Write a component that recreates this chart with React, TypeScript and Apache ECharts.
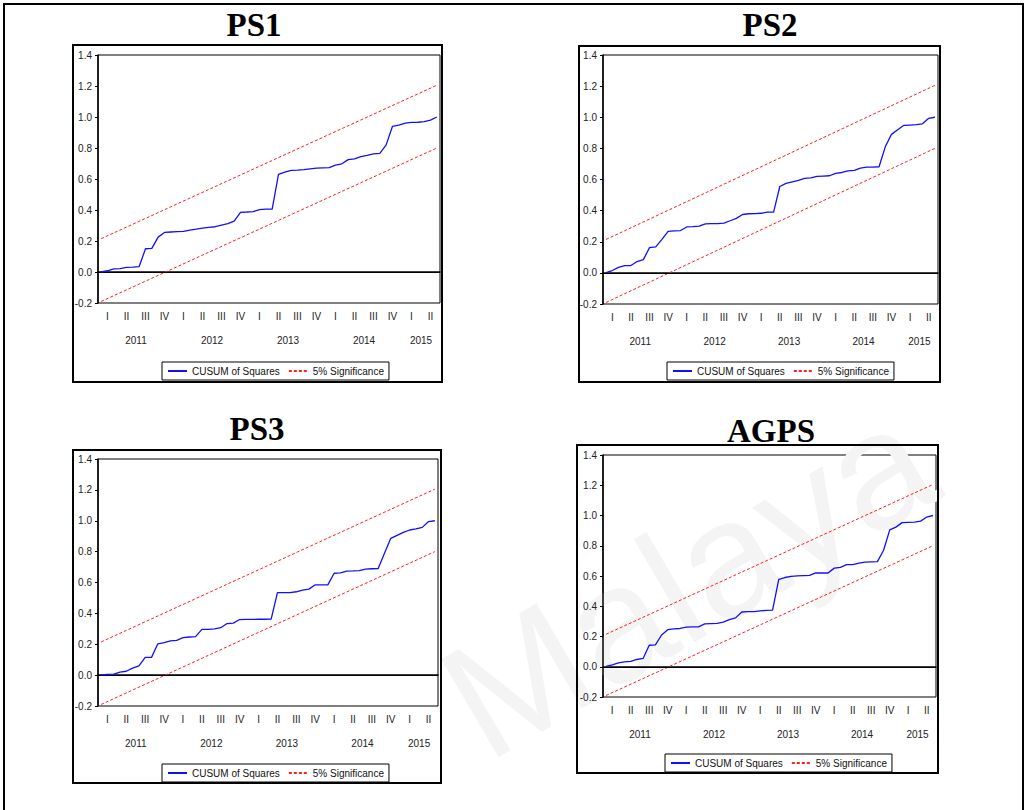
import React, { useEffect, useRef } from "react";
import * as echarts from "echarts";

// ---- data ----
const START_YEAR = 2011;
const MONTH_COUNT = 54; // 2011M01 .. 2015M06
const MONTHS: string[] = Array.from({ length: MONTH_COUNT }, (_, i) =>
  `${START_YEAR + Math.floor(i / 12)}M${String((i % 12) + 1).padStart(2, "0")}`
);
const YEARS = ["2011", "2012", "2013", "2014", "2015"];
const QUARTER_LABELS = ["I", "II", "III", "IV"];
const Y_TICKS = [-0.2, 0.0, 0.2, 0.4, 0.6, 0.8, 1.0, 1.2, 1.4];

const PS1 = [
  0.0, 0.008, 0.02, 0.022, 0.03, 0.032, 0.035, 0.15, 0.152, 0.225, 0.255, 0.258,
  0.26, 0.262, 0.27, 0.276, 0.283, 0.288, 0.292, 0.302, 0.312, 0.328, 0.385, 0.387,
  0.39, 0.402, 0.405, 0.406, 0.63, 0.645, 0.655, 0.657, 0.66, 0.665, 0.67, 0.672,
  0.673, 0.69, 0.698, 0.725, 0.73, 0.745, 0.752, 0.762, 0.765, 0.82, 0.94, 0.947,
  0.96, 0.965, 0.966, 0.97, 0.98, 1.0,
];
const PS2 = [
  0.002, 0.015, 0.035, 0.047, 0.047, 0.073, 0.085, 0.162, 0.167, 0.215, 0.267, 0.27,
  0.272, 0.295, 0.297, 0.3, 0.315, 0.316, 0.317, 0.32, 0.335, 0.35, 0.375, 0.38,
  0.381, 0.383, 0.39, 0.39, 0.555, 0.575, 0.585, 0.595, 0.607, 0.61, 0.62, 0.622,
  0.624, 0.64, 0.645, 0.656, 0.658, 0.673, 0.68, 0.68, 0.682, 0.81, 0.89, 0.92,
  0.948, 0.95, 0.952, 0.958, 0.993, 1.0,
];
const PS3 = [
  0.002, 0.004, 0.006, 0.02, 0.025, 0.045, 0.06, 0.115, 0.115, 0.203, 0.21, 0.222,
  0.225, 0.243, 0.247, 0.249, 0.296, 0.297, 0.299, 0.307, 0.334, 0.337, 0.36, 0.361,
  0.361, 0.362, 0.362, 0.363, 0.535, 0.535, 0.535, 0.54, 0.55, 0.557, 0.585, 0.585,
  0.585, 0.66, 0.663, 0.674, 0.675, 0.677, 0.687, 0.689, 0.69, 0.79, 0.886, 0.905,
  0.925, 0.94, 0.948, 0.957, 0.995, 1.0,
];
const AGPS = [
  0.002, 0.013, 0.025, 0.032, 0.035, 0.048, 0.055, 0.142, 0.145, 0.21, 0.245, 0.25,
  0.253, 0.262, 0.263, 0.264, 0.283, 0.285, 0.287, 0.295, 0.312, 0.323, 0.362, 0.364,
  0.365, 0.369, 0.373, 0.374, 0.578, 0.59, 0.597, 0.601, 0.603, 0.604, 0.62, 0.62,
  0.62, 0.652, 0.657, 0.675, 0.675, 0.685, 0.692, 0.694, 0.695, 0.77, 0.905, 0.923,
  0.953, 0.955, 0.956, 0.963, 0.99, 1.0,
];
// 5% significance bounds: [value at first month, value at last month]
const UPPER_BOUND = [0.215, 1.205];
const LOWER_BOUND = [-0.19, 0.8];

const SERIES_NAME = "CUSUM of Squares";
const BOUND_NAME = "5% Significance";

// ---- layout ----
const PANELS = [
  { title: "PS1", data: PS1, box: [73, 45, 369, 337], grid: { left: 98, top: 55, width: 342, height: 248 }, titleX: 254, titleY: 25, legendLeft: 162, legendTop: 362 },
  { title: "PS2", data: PS2, box: [579, 46, 361, 336], grid: { left: 603, top: 55, width: 335, height: 249 }, titleX: 770, titleY: 25, legendLeft: 667, legendTop: 362 },
  { title: "PS3", data: PS3, box: [73, 450, 368, 333], grid: { left: 98, top: 459, width: 340, height: 247 }, titleX: 257, titleY: 429, legendLeft: 162, legendTop: 764 },
  { title: "AGPS", data: AGPS, box: [577, 445, 361, 328], grid: { left: 603, top: 455, width: 333, height: 242 }, titleX: 771, titleY: 431, legendLeft: 665, legendTop: 754 },
];

const SANS = "'Liberation Sans', Arial, sans-serif";
const SERIF = "'Liberation Serif', 'Times New Roman', serif";

function yearCenters() {
  const centers: number[] = [];
  const labels: Record<string, string> = {};
  YEARS.forEach((y) => {
    const idx = MONTHS.map((m, i) => (m.startsWith(y) ? i : -1)).filter((i) => i >= 0);
    const c = (idx[0] + idx[idx.length - 1] + 1) / 2;
    centers.push(c);
    labels[String(c)] = y;
  });
  return { centers, labels };
}

function buildOption() {
  const { centers, labels } = yearCenters();
  const grids: any[] = [];
  const xAxes: any[] = [];
  const yAxes: any[] = [];
  const series: any[] = [];
  const legends: any[] = [];
  const graphics: any[] = [];

  // faint watermark
  graphics.push({
    type: "text",
    x: 500,
    y: 786,
    rotation: 0.53,
    z: 0,
    silent: true,
    style: { text: "Malaya", font: `165px ${SANS}`, fill: "#f4f4f4", verticalAlign: "bottom" },
  });
  graphics.push({
    type: "rect",
    z: 100,
    shape: { x: 4, y: 4, width: 1019, height: 830 },
    style: { fill: "none", stroke: "#000", lineWidth: 2 },
    silent: true,
  });

  PANELS.forEach((p, k) => {
    grids.push({ ...p.grid, show: true, borderColor: "#000", borderWidth: 1, backgroundColor: "transparent" });
    xAxes.push({
      type: "category",
      gridIndex: k,
      data: MONTHS,
      boundaryGap: true,
      axisLine: { lineStyle: { color: "#000", width: 1.5 } },
      axisTick: { interval: 0, length: 3, lineStyle: { color: "#000", width: 1 } },
      axisLabel: {
        interval: (i: number) => i % 3 === 1,
        margin: 8,
        fontFamily: SANS,
        fontSize: 10,
        color: "#222",
        formatter: (v: string) => QUARTER_LABELS[Math.floor((parseInt(v.slice(5), 10) - 1) / 3)],
      },
      splitLine: { show: false },
    });
    xAxes.push({
      type: "value",
      gridIndex: k,
      position: "bottom",
      offset: 23,
      min: 0,
      max: MONTH_COUNT,
      axisLine: { show: false },
      axisTick: { show: false },
      splitLine: { show: false },
      axisLabel: {
        customValues: centers,
        margin: 9,
        fontFamily: SANS,
        fontSize: 10,
        color: "#222",
        formatter: (v: number) => labels[String(v)] || "",
      },
    });
    yAxes.push({
      type: "value",
      gridIndex: k,
      min: Y_TICKS[0],
      max: Y_TICKS[Y_TICKS.length - 1],
      interval: 0.2,
      axisLine: { show: true, lineStyle: { color: "#000", width: 1.5 } },
      axisTick: { show: true, length: 3, lineStyle: { color: "#000" } },
      splitLine: { show: false },
      axisLabel: {
        margin: 6,
        fontFamily: SANS,
        fontSize: 10,
        color: "#222",
        formatter: (v: number) => v.toFixed(1),
      },
    });
    series.push({
      name: SERIES_NAME,
      type: "line",
      xAxisIndex: 2 * k,
      yAxisIndex: k,
      data: p.data,
      symbol: "none",
      lineStyle: { color: "#1010ff", width: 1.3 },
      itemStyle: { color: "#1010ff" },
      z: 5,
      markLine: {
        silent: true,
        symbol: "none",
        label: { show: false },
        lineStyle: { color: "#000", width: 1, type: "solid" },
        data: [{ yAxis: 0 }],
      },
    });
    [UPPER_BOUND, LOWER_BOUND].forEach((b) => {
      series.push({
        name: BOUND_NAME,
        type: "line",
        xAxisIndex: 2 * k,
        yAxisIndex: k,
        connectNulls: true,
        data: MONTHS.map((_, i) => (i === 0 ? b[0] : i === MONTHS.length - 1 ? b[1] : null)),
        symbol: "none",
        lineStyle: { color: "#ff2020", width: 1, type: [3, 2] },
        itemStyle: { color: "#ff2020" },
        z: 4,
      });
    });
    legends.push({
      left: p.legendLeft,
      top: p.legendTop,
      orient: "horizontal",
      data: [SERIES_NAME, BOUND_NAME],
      itemWidth: 19,
      itemHeight: 10,
      itemGap: 8,
      padding: [4, 5],
      borderColor: "#000",
      borderWidth: 1,
      backgroundColor: "#fff",
      selectedMode: false,
      itemStyle: { opacity: 0 },
      textStyle: { fontFamily: SANS, fontSize: 10, color: "#111" },
    });
    graphics.push({
      type: "rect",
      z: 100,
      silent: true,
      shape: { x: p.box[0], y: p.box[1], width: p.box[2], height: p.box[3] },
      style: { fill: "none", stroke: "#000", lineWidth: 2 },
    });
    graphics.push({
      type: "text",
      x: p.titleX,
      y: p.titleY,
      z: 100,
      silent: true,
      style: {
        text: p.title,
        font: `bold 33px ${SERIF}`,
        fill: "#000",
        align: "center",
        verticalAlign: "middle",
      },
    });
  });

  return {
    animation: false,
    backgroundColor: "#fff",
    grid: grids,
    xAxis: xAxes,
    yAxis: yAxes,
    legend: legends,
    series,
    graphic: { elements: graphics },
  };
}

export default function App() {
  const ref = useRef<HTMLDivElement>(null);
  useEffect(() => {
    if (!ref.current) return;
    const chart = echarts.init(ref.current, null, { renderer: "svg" });
    chart.setOption(buildOption() as any);
    return () => chart.dispose();
  }, []);
  return (
    <div
      ref={ref}
      style={{ position: "fixed", left: 0, top: 0, width: 1028, height: 810, background: "#fff" }}
    />
  );
}
